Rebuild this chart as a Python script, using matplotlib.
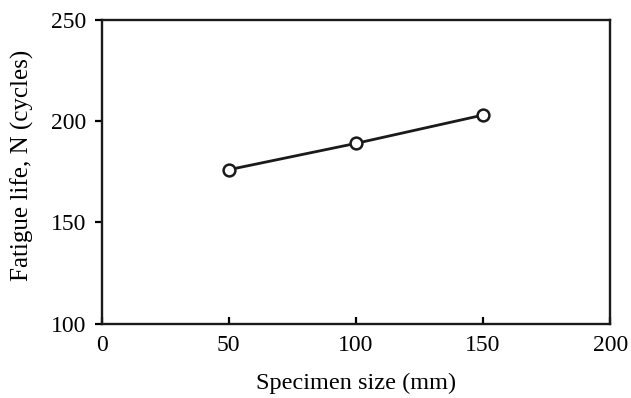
import matplotlib
matplotlib.use('Agg')
import matplotlib.pyplot as plt

# Specimen size vs fatigue life
specimen_size = [50, 100, 150]
fatigue_life = [176, 189, 203]
x_ticks = [0, 50, 100, 150, 200]
y_ticks = [100, 150, 200, 250]

plt.rcParams['font.family'] = ['Liberation Serif', 'DejaVu Serif']

fig = plt.figure(figsize=(6.31, 3.98), dpi=100)
ax = fig.add_axes([0.161, 0.187, 0.806, 0.763])

ax.plot(specimen_size, fatigue_life, color='#1a1a1a', linewidth=2,
        marker='o', markersize=8.5, markerfacecolor='white',
        markeredgecolor='#1a1a1a', markeredgewidth=1.8)

ax.set_xlim(0, 200)
ax.set_ylim(100, 250)
ax.set_xticks(x_ticks)
ax.set_yticks(y_ticks)
ax.tick_params(axis='x', direction='in', length=5, width=1.6, labelsize=17, pad=8)
ax.tick_params(axis='y', direction='out', length=5, width=1.6, labelsize=17, pad=6)
for s in ax.spines.values():
    s.set_linewidth(1.7)
    s.set_color('#1a1a1a')

ax.set_xlabel('Specimen size (mm)', fontsize=17.5, labelpad=12)
ax.set_ylabel('Fatigue life, N (cycles)', fontsize=18)
ax.yaxis.set_label_coords(-0.133, 0.52)

fig.savefig('out.png', dpi=100)
